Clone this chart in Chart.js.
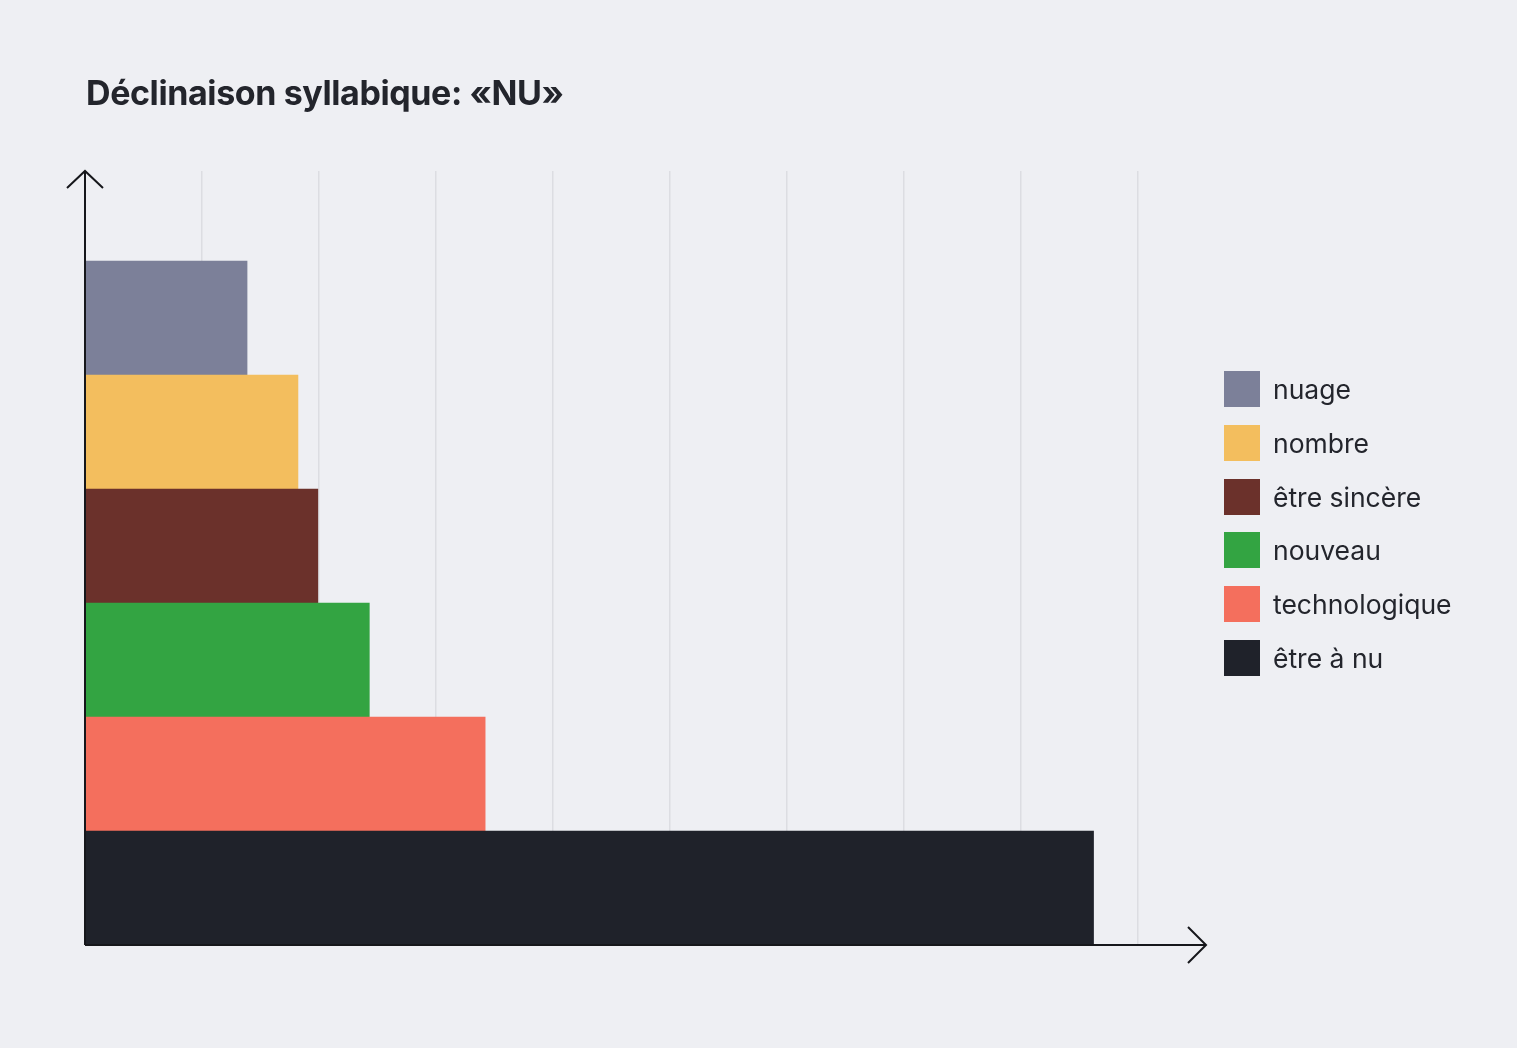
<!DOCTYPE html>
<html lang="fr">
<head>
<meta charset="utf-8">
<title>Déclinaison syllabique: «NU»</title>
<script src="https://cdn.jsdelivr.net/npm/chart.js@4"></script>
<style>
  html, body { margin: 0; padding: 0; background: #eeeff3; }
  #wrap { position: relative; width: 1517px; height: 1048px; overflow: hidden; background: #eeeff3; }
  #chart { position: absolute; left: 0; top: 0; }
  #title {
    position: absolute; left: 86px; top: 76px; margin: 0;
    font-family: Inter, "Noto Sans", sans-serif; font-weight: 700; font-size: 34px;
    line-height: 34px; color: #23252c; letter-spacing: -0.4px; white-space: nowrap;
  }
  #legend { position: absolute; left: 1224px; top: 371px; margin: 0; padding: 0; list-style: none; }
  #legend li { display: flex; align-items: center; height: 36px; margin-bottom: 17.8px; }
  #legend .sw { width: 36px; height: 36px; flex: 0 0 36px; }
  #legend .lb {
    margin-left: 13px; font-family: Inter, "Noto Sans", sans-serif; font-size: 26.5px;
    color: #23252c; white-space: nowrap; letter-spacing: 0px;
  }
</style>
</head>
<body>
<div id="wrap">
  <canvas id="chart" width="1517" height="1048"></canvas>
  <h1 id="title">Déclinaison syllabique: «NU»</h1>
  <ul id="legend"></ul>
</div>
<script>
// ---- data ----
const categories = ['nuage', 'nombre', 'être sincère', 'nouveau', 'technologique', 'être à nu'];
const values = [1.385, 1.82, 1.99, 2.43, 3.42, 8.62];
const colors = ['#7c8099', '#f3be5e', '#6b312b', '#33a442', '#f46f5d', '#1f222a'];
const xMin = 0;
const xMax = 9;
const xStep = 1;

// legend (real text)
const legendEl = document.getElementById('legend');
categories.forEach((c, i) => {
  const li = document.createElement('li');
  const sw = document.createElement('span');
  sw.className = 'sw';
  sw.style.background = colors[i];
  const lb = document.createElement('span');
  lb.className = 'lb';
  lb.textContent = c;
  li.appendChild(sw);
  li.appendChild(lb);
  legendEl.appendChild(li);
});

// axes with arrows
const arrowAxes = {
  id: 'arrowAxes',
  afterDatasetsDraw(chart) {
    const { ctx, chartArea: a } = chart;
    ctx.save();
    ctx.strokeStyle = '#16171b';
    ctx.lineWidth = 2;
    ctx.lineCap = 'butt';
    ctx.lineJoin = 'miter';
    const xEnd = a.right + 68;
    // y axis
    ctx.beginPath();
    ctx.moveTo(a.left, a.bottom);
    ctx.lineTo(a.left, a.top);
    ctx.stroke();
    ctx.beginPath();
    ctx.moveTo(a.left - 18, a.top + 17);
    ctx.lineTo(a.left, a.top);
    ctx.lineTo(a.left + 18, a.top + 17);
    ctx.stroke();
    // x axis
    ctx.beginPath();
    ctx.moveTo(a.left, a.bottom);
    ctx.lineTo(xEnd, a.bottom);
    ctx.stroke();
    ctx.beginPath();
    ctx.moveTo(xEnd - 18, a.bottom - 18);
    ctx.lineTo(xEnd, a.bottom);
    ctx.lineTo(xEnd - 18, a.bottom + 18);
    ctx.stroke();
    ctx.restore();
  }
};

new Chart(document.getElementById('chart'), {
  type: 'bar',
  data: {
    labels: categories,
    datasets: [{
      label: 'Déclinaison syllabique',
      data: values.map((v, i) => ({ x: v, y: categories.length - 1 - i })),
      backgroundColor: colors,
      borderWidth: 0,
      barPercentage: 1,
      categoryPercentage: 1
    }]
  },
  options: {
    indexAxis: 'y',
    responsive: false,
    animation: false,
    devicePixelRatio: 1,
    layout: { padding: { left: 85, right: 379, top: 171, bottom: 103 } },
    plugins: { legend: { display: false }, title: { display: false }, tooltip: { enabled: false } },
    scales: {
      x: {
        type: 'linear', min: xMin, max: xMax,
        ticks: { display: false, stepSize: xStep },
        grid: { color: '#dcdde2', lineWidth: 1.5, drawTicks: false },
        border: { display: false }
      },
      y: {
        type: 'linear', min: -0.5, max: 6.29, bounds: 'data', offset: false,
        ticks: { stepSize: 1, includeBounds: false },
        grid: { offset: false },
        display: false
      }
    }
  },
  plugins: [arrowAxes]
});
</script>
</body>
</html>
